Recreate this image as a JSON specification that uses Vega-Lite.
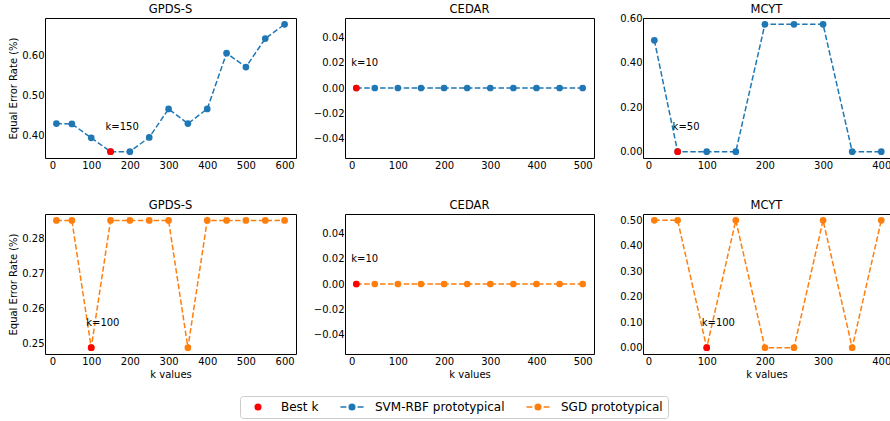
{
  "$schema": "https://vega.github.io/schema/vega-lite/v6.json",
  "padding": {"left": 8, "top": 3, "right": 0, "bottom": 2},
  "background": "white",
  "datasets": {
    "d": [
      {"ds": "GPDS-S", "m": "SVM", "k": 10, "v": 0.429, "series": "SVM-RBF prototypical"},
      {"ds": "GPDS-S", "m": "SVM", "k": 50, "v": 0.428, "series": "SVM-RBF prototypical"},
      {"ds": "GPDS-S", "m": "SVM", "k": 100, "v": 0.393, "series": "SVM-RBF prototypical"},
      {"ds": "GPDS-S", "m": "SVM", "k": 150, "v": 0.358, "series": "SVM-RBF prototypical"},
      {"ds": "GPDS-S", "m": "SVM", "k": 200, "v": 0.358, "series": "SVM-RBF prototypical"},
      {"ds": "GPDS-S", "m": "SVM", "k": 250, "v": 0.394, "series": "SVM-RBF prototypical"},
      {"ds": "GPDS-S", "m": "SVM", "k": 300, "v": 0.466, "series": "SVM-RBF prototypical"},
      {"ds": "GPDS-S", "m": "SVM", "k": 350, "v": 0.429, "series": "SVM-RBF prototypical"},
      {"ds": "GPDS-S", "m": "SVM", "k": 400, "v": 0.466, "series": "SVM-RBF prototypical"},
      {"ds": "GPDS-S", "m": "SVM", "k": 450, "v": 0.607, "series": "SVM-RBF prototypical"},
      {"ds": "GPDS-S", "m": "SVM", "k": 500, "v": 0.572, "series": "SVM-RBF prototypical"},
      {"ds": "GPDS-S", "m": "SVM", "k": 550, "v": 0.644, "series": "SVM-RBF prototypical"},
      {"ds": "GPDS-S", "m": "SVM", "k": 600, "v": 0.680, "series": "SVM-RBF prototypical"},
      {"ds": "CEDAR", "m": "SVM", "k": 10, "v": 0, "series": "SVM-RBF prototypical"},
      {"ds": "CEDAR", "m": "SVM", "k": 50, "v": 0, "series": "SVM-RBF prototypical"},
      {"ds": "CEDAR", "m": "SVM", "k": 100, "v": 0, "series": "SVM-RBF prototypical"},
      {"ds": "CEDAR", "m": "SVM", "k": 150, "v": 0, "series": "SVM-RBF prototypical"},
      {"ds": "CEDAR", "m": "SVM", "k": 200, "v": 0, "series": "SVM-RBF prototypical"},
      {"ds": "CEDAR", "m": "SVM", "k": 250, "v": 0, "series": "SVM-RBF prototypical"},
      {"ds": "CEDAR", "m": "SVM", "k": 300, "v": 0, "series": "SVM-RBF prototypical"},
      {"ds": "CEDAR", "m": "SVM", "k": 350, "v": 0, "series": "SVM-RBF prototypical"},
      {"ds": "CEDAR", "m": "SVM", "k": 400, "v": 0, "series": "SVM-RBF prototypical"},
      {"ds": "CEDAR", "m": "SVM", "k": 450, "v": 0, "series": "SVM-RBF prototypical"},
      {"ds": "CEDAR", "m": "SVM", "k": 500, "v": 0, "series": "SVM-RBF prototypical"},
      {"ds": "MCYT", "m": "SVM", "k": 10, "v": 0.5, "series": "SVM-RBF prototypical"},
      {"ds": "MCYT", "m": "SVM", "k": 50, "v": 0, "series": "SVM-RBF prototypical"},
      {"ds": "MCYT", "m": "SVM", "k": 100, "v": 0, "series": "SVM-RBF prototypical"},
      {"ds": "MCYT", "m": "SVM", "k": 150, "v": 0, "series": "SVM-RBF prototypical"},
      {"ds": "MCYT", "m": "SVM", "k": 200, "v": 0.5714, "series": "SVM-RBF prototypical"},
      {"ds": "MCYT", "m": "SVM", "k": 250, "v": 0.5714, "series": "SVM-RBF prototypical"},
      {"ds": "MCYT", "m": "SVM", "k": 300, "v": 0.5714, "series": "SVM-RBF prototypical"},
      {"ds": "MCYT", "m": "SVM", "k": 350, "v": 0, "series": "SVM-RBF prototypical"},
      {"ds": "MCYT", "m": "SVM", "k": 400, "v": 0, "series": "SVM-RBF prototypical"},
      {"ds": "GPDS-S", "m": "SGD", "k": 10, "v": 0.2852, "series": "SGD prototypical"},
      {"ds": "GPDS-S", "m": "SGD", "k": 50, "v": 0.2852, "series": "SGD prototypical"},
      {"ds": "GPDS-S", "m": "SGD", "k": 100, "v": 0.2487, "series": "SGD prototypical"},
      {"ds": "GPDS-S", "m": "SGD", "k": 150, "v": 0.2852, "series": "SGD prototypical"},
      {"ds": "GPDS-S", "m": "SGD", "k": 200, "v": 0.2852, "series": "SGD prototypical"},
      {"ds": "GPDS-S", "m": "SGD", "k": 250, "v": 0.2852, "series": "SGD prototypical"},
      {"ds": "GPDS-S", "m": "SGD", "k": 300, "v": 0.2852, "series": "SGD prototypical"},
      {"ds": "GPDS-S", "m": "SGD", "k": 350, "v": 0.2487, "series": "SGD prototypical"},
      {"ds": "GPDS-S", "m": "SGD", "k": 400, "v": 0.2852, "series": "SGD prototypical"},
      {"ds": "GPDS-S", "m": "SGD", "k": 450, "v": 0.2852, "series": "SGD prototypical"},
      {"ds": "GPDS-S", "m": "SGD", "k": 500, "v": 0.2852, "series": "SGD prototypical"},
      {"ds": "GPDS-S", "m": "SGD", "k": 550, "v": 0.2852, "series": "SGD prototypical"},
      {"ds": "GPDS-S", "m": "SGD", "k": 600, "v": 0.2852, "series": "SGD prototypical"},
      {"ds": "CEDAR", "m": "SGD", "k": 10, "v": 0, "series": "SGD prototypical"},
      {"ds": "CEDAR", "m": "SGD", "k": 50, "v": 0, "series": "SGD prototypical"},
      {"ds": "CEDAR", "m": "SGD", "k": 100, "v": 0, "series": "SGD prototypical"},
      {"ds": "CEDAR", "m": "SGD", "k": 150, "v": 0, "series": "SGD prototypical"},
      {"ds": "CEDAR", "m": "SGD", "k": 200, "v": 0, "series": "SGD prototypical"},
      {"ds": "CEDAR", "m": "SGD", "k": 250, "v": 0, "series": "SGD prototypical"},
      {"ds": "CEDAR", "m": "SGD", "k": 300, "v": 0, "series": "SGD prototypical"},
      {"ds": "CEDAR", "m": "SGD", "k": 350, "v": 0, "series": "SGD prototypical"},
      {"ds": "CEDAR", "m": "SGD", "k": 400, "v": 0, "series": "SGD prototypical"},
      {"ds": "CEDAR", "m": "SGD", "k": 450, "v": 0, "series": "SGD prototypical"},
      {"ds": "CEDAR", "m": "SGD", "k": 500, "v": 0, "series": "SGD prototypical"},
      {"ds": "MCYT", "m": "SGD", "k": 10, "v": 0.5, "series": "SGD prototypical"},
      {"ds": "MCYT", "m": "SGD", "k": 50, "v": 0.5, "series": "SGD prototypical"},
      {"ds": "MCYT", "m": "SGD", "k": 100, "v": 0, "series": "SGD prototypical"},
      {"ds": "MCYT", "m": "SGD", "k": 150, "v": 0.5, "series": "SGD prototypical"},
      {"ds": "MCYT", "m": "SGD", "k": 200, "v": 0, "series": "SGD prototypical"},
      {"ds": "MCYT", "m": "SGD", "k": 250, "v": 0, "series": "SGD prototypical"},
      {"ds": "MCYT", "m": "SGD", "k": 300, "v": 0.5, "series": "SGD prototypical"},
      {"ds": "MCYT", "m": "SGD", "k": 350, "v": 0, "series": "SGD prototypical"},
      {"ds": "MCYT", "m": "SGD", "k": 400, "v": 0.5, "series": "SGD prototypical"},
      {"ds": "GPDS-S", "m": "SVM", "k": 150, "v": 0.358, "series": "Best k", "label": "k=150"},
      {"ds": "CEDAR", "m": "SVM", "k": 10, "v": 0, "series": "Best k", "label": "k=10"},
      {"ds": "MCYT", "m": "SVM", "k": 50, "v": 0, "series": "Best k", "label": "k=50"},
      {"ds": "GPDS-S", "m": "SGD", "k": 100, "v": 0.2487, "series": "Best k", "label": "k=100"},
      {"ds": "CEDAR", "m": "SGD", "k": 10, "v": 0, "series": "Best k", "label": "k=10"},
      {"ds": "MCYT", "m": "SGD", "k": 100, "v": 0, "series": "Best k", "label": "k=100"}
    ]
  },
  "data": {"name": "d"},
  "columns": 3,
  "bounds": "flush",
  "align": "each",
  "spacing": {"row": 56, "column": 49},
  "concat": [
    {
      "width": 251, "height": 140, "title": "GPDS-S",
      "transform": [{"filter": "datum.ds === 'GPDS-S' && datum.m === 'SVM'"}],
      "encoding": {
        "x": {"field": "k", "type": "quantitative", "scale": {"domain": [-19.5, 629.5], "nice": false, "zero": false}, "axis": {"title": null, "values": [0, 100, 200, 300, 400, 500, 600]}},
        "y": {"field": "v", "type": "quantitative", "scale": {"domain": [0.3419, 0.6961], "nice": false, "zero": false}, "axis": {"title": "Equal Error Rate (%)", "values": [0.4, 0.5, 0.6], "format": ".2f"}},
        "color": {"field": "series", "type": "nominal", "scale": {"domain": ["Best k", "SVM-RBF prototypical", "SGD prototypical"], "range": ["#ff0000", "#1f77b4", "#ff7f0e"]},
          "legend": {
            "orient": "none", "legendX": 195, "legendY": 378, "direction": "horizontal", "title": null,
            "fillColor": "white", "strokeColor": "#cccccc", "cornerRadius": 3, "padding": 5,
            "labelFontSize": 12, "labelColor": "black", "symbolSize": 49, "symbolOffset": 7, "labelOffset": 17, "columnPadding": 18,
            "encode": {"symbols": {"update": {
              "shape": {"signal": "datum.value === 'Best k' ? 'M0.8,0A0.8,0.8,0,1,1,-0.8,0A0.8,0.8,0,1,1,0.8,0Z' : 'M-3.3,0L-1.6,0M1.6,0L3.3,0M0.8,0A0.8,0.8,0,1,1,-0.8,0A0.8,0.8,0,1,1,0.8,0Z'"},
              "stroke": {"scale": "color", "field": "value"},
              "fill": {"scale": "color", "field": "value"},
              "strokeWidth": {"value": 1.5},
              "strokeDash": {"value": []},
              "opacity": {"value": 1},
              "fillOpacity": {"value": 1},
              "strokeOpacity": {"value": 1}
            }}}
          }}
      },
      "layer": [
        {"transform": [{"filter": "datum.series !== 'Best k'"}], "mark": {"type": "line", "strokeDash": [5.5, 2.4], "strokeWidth": 1.5}},
        {"mark": {"type": "point", "filled": true, "size": 45, "opacity": 1}},
        {"transform": [{"filter": "datum.series === 'Best k'"}], "mark": {"type": "text", "align": "left", "baseline": "middle", "dx": -5, "dy": -25, "fontSize": 10, "color": "black"}, "encoding": {"text": {"field": "label"}, "color": {"value": "black"}}}
      ]
    },
    {
      "width": 249, "height": 140, "title": "CEDAR",
      "transform": [{"filter": "datum.ds === 'CEDAR' && datum.m === 'SVM'"}],
      "encoding": {
        "x": {"field": "k", "type": "quantitative", "scale": {"domain": [-14.5, 524.5], "nice": false, "zero": false}, "axis": {"title": null, "values": [0, 100, 200, 300, 400, 500]}},
        "y": {"field": "v", "type": "quantitative", "scale": {"domain": [-0.055, 0.055], "nice": false, "zero": false}, "axis": {"title": null, "values": [-0.04, -0.02, 0, 0.02, 0.04], "format": ".2f"}},
        "color": {"field": "series", "type": "nominal"}
      },
      "layer": [
        {"transform": [{"filter": "datum.series !== 'Best k'"}], "mark": {"type": "line", "strokeDash": [5.5, 2.4], "strokeWidth": 1.5}},
        {"mark": {"type": "point", "filled": true, "size": 45, "opacity": 1}},
        {"transform": [{"filter": "datum.series === 'Best k'"}], "mark": {"type": "text", "align": "left", "baseline": "middle", "dx": -5, "dy": -25, "fontSize": 10, "color": "black"}, "encoding": {"text": {"field": "label"}, "color": {"value": "black"}}}
      ]
    },
    {
      "width": 247, "height": 140, "title": {"text": "MCYT", "dy": 5},
      "transform": [{"filter": "datum.ds === 'MCYT' && datum.m === 'SVM'"}],
      "encoding": {
        "x": {"field": "k", "type": "quantitative", "scale": {"domain": [-9.5, 415], "nice": false, "zero": false}, "axis": {"title": null, "values": [0, 100, 200, 300, 400]}},
        "y": {"field": "v", "type": "quantitative", "scale": {"domain": [-0.0286, 0.6], "nice": false, "zero": false}, "axis": {"title": null, "values": [0, 0.2, 0.4, 0.6], "format": ".2f"}},
        "color": {"field": "series", "type": "nominal"}
      },
      "layer": [
        {"transform": [{"filter": "datum.series !== 'Best k'"}], "mark": {"type": "line", "strokeDash": [5.5, 2.4], "strokeWidth": 1.5}},
        {"mark": {"type": "point", "filled": true, "size": 45, "opacity": 1}},
        {"transform": [{"filter": "datum.series === 'Best k'"}], "mark": {"type": "text", "align": "left", "baseline": "middle", "dx": -5, "dy": -25, "fontSize": 10, "color": "black"}, "encoding": {"text": {"field": "label"}, "color": {"value": "black"}}}
      ]
    },
    {
      "width": 251, "height": 140, "title": "GPDS-S",
      "transform": [{"filter": "datum.ds === 'GPDS-S' && datum.m === 'SGD'"}],
      "encoding": {
        "x": {"field": "k", "type": "quantitative", "scale": {"domain": [-19.5, 629.5], "nice": false, "zero": false}, "axis": {"title": "k values", "values": [0, 100, 200, 300, 400, 500, 600]}},
        "y": {"field": "v", "type": "quantitative", "scale": {"domain": [0.24688, 0.28703], "nice": false, "zero": false}, "axis": {"title": "Equal Error Rate (%)", "values": [0.25, 0.26, 0.27, 0.28], "format": ".2f"}},
        "color": {"field": "series", "type": "nominal"}
      },
      "layer": [
        {"transform": [{"filter": "datum.series !== 'Best k'"}], "mark": {"type": "line", "strokeDash": [5.5, 2.4], "strokeWidth": 1.5}},
        {"mark": {"type": "point", "filled": true, "size": 45, "opacity": 1}},
        {"transform": [{"filter": "datum.series === 'Best k'"}], "mark": {"type": "text", "align": "left", "baseline": "middle", "dx": -5, "dy": -25, "fontSize": 10, "color": "black"}, "encoding": {"text": {"field": "label"}, "color": {"value": "black"}}}
      ]
    },
    {
      "width": 249, "height": 140, "title": "CEDAR",
      "transform": [{"filter": "datum.ds === 'CEDAR' && datum.m === 'SGD'"}],
      "encoding": {
        "x": {"field": "k", "type": "quantitative", "scale": {"domain": [-14.5, 524.5], "nice": false, "zero": false}, "axis": {"title": "k values", "values": [0, 100, 200, 300, 400, 500]}},
        "y": {"field": "v", "type": "quantitative", "scale": {"domain": [-0.055, 0.055], "nice": false, "zero": false}, "axis": {"title": null, "values": [-0.04, -0.02, 0, 0.02, 0.04], "format": ".2f"}},
        "color": {"field": "series", "type": "nominal"}
      },
      "layer": [
        {"transform": [{"filter": "datum.series !== 'Best k'"}], "mark": {"type": "line", "strokeDash": [5.5, 2.4], "strokeWidth": 1.5}},
        {"mark": {"type": "point", "filled": true, "size": 45, "opacity": 1}},
        {"transform": [{"filter": "datum.series === 'Best k'"}], "mark": {"type": "text", "align": "left", "baseline": "middle", "dx": -5, "dy": -25, "fontSize": 10, "color": "black"}, "encoding": {"text": {"field": "label"}, "color": {"value": "black"}}}
      ]
    },
    {
      "width": 247, "height": 140, "title": "MCYT",
      "transform": [{"filter": "datum.ds === 'MCYT' && datum.m === 'SGD'"}],
      "encoding": {
        "x": {"field": "k", "type": "quantitative", "scale": {"domain": [-9.5, 415], "nice": false, "zero": false}, "axis": {"title": "k values", "values": [0, 100, 200, 300, 400]}},
        "y": {"field": "v", "type": "quantitative", "scale": {"domain": [-0.025, 0.525], "nice": false, "zero": false}, "axis": {"title": null, "values": [0, 0.1, 0.2, 0.3, 0.4, 0.5], "format": ".2f"}},
        "color": {"field": "series", "type": "nominal"}
      },
      "layer": [
        {"transform": [{"filter": "datum.series !== 'Best k'"}], "mark": {"type": "line", "strokeDash": [5.5, 2.4], "strokeWidth": 1.5}},
        {"mark": {"type": "point", "filled": true, "size": 45, "opacity": 1}},
        {"transform": [{"filter": "datum.series === 'Best k'"}], "mark": {"type": "text", "align": "left", "baseline": "middle", "dx": -5, "dy": -25, "fontSize": 10, "color": "black"}, "encoding": {"text": {"field": "label"}, "color": {"value": "black"}}}
      ]
    }
  ],
  "config": {
    "font": "DejaVu Sans",
    "view": {"stroke": "black", "strokeWidth": 1},
    "axis": {"ticks": false, "domain": false, "grid": false, "labelFontSize": 10, "labelColor": "black", "titleFontSize": 10, "titleFontWeight": "normal", "titleColor": "black", "labelOverlap": false, "labelBound": false, "labelFlush": false},
    "axisX": {"labelPadding": 2, "titlePadding": 3},
    "axisY": {"labelPadding": 1, "titlePadding": 3},
    "title": {"fontSize": 11.5, "fontWeight": "normal", "color": "black", "offset": 3, "frame": "group"}
  }
}
